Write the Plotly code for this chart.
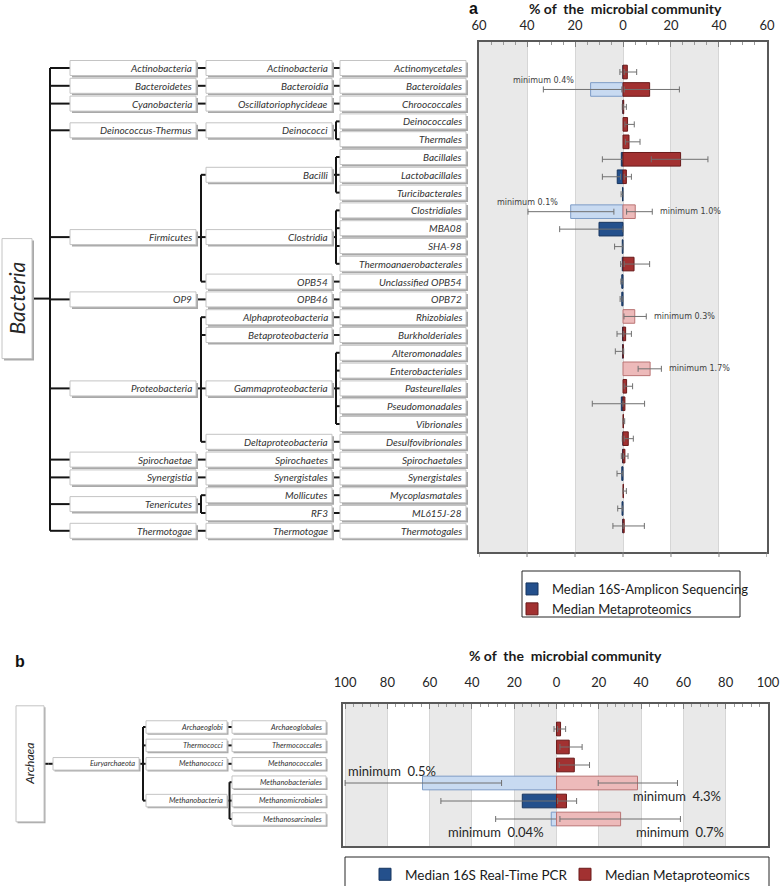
import plotly.graph_objects as go

W, H = 780, 886
FONT = "Lato"

# ---------------- Panel a data (Bacteria) ----------------
a_orders = ["Actinomycetales", "Bacteroidales", "Chroococcales", "Deinococcales", "Thermales",
            "Bacillales", "Lactobacillales", "Turicibacterales", "Clostridiales", "MBA08", "SHA-98",
            "Thermoanaerobacterales", "Unclassified OPB54", "OPB72", "Rhizobiales", "Burkholderiales",
            "Alteromonadales", "Enterobacteriales", "Pasteurellales", "Pseudomonadales", "Vibrionales",
            "Desulfovibrionales", "Spirochaetales", "Synergistales", "Mycoplasmatales", "ML615J-28",
            "Thermotogales"]
a_classes = ["Actinobacteria", "Bacteroidia", "Oscillatoriophycideae", "Deinococci", "Deinococci",
             "Bacilli", "Bacilli", "Bacilli", "Clostridia", "Clostridia", "Clostridia", "Clostridia",
             "OPB54", "OPB46", "Alphaproteobacteria", "Betaproteobacteria", "Gammaproteobacteria",
             "Gammaproteobacteria", "Gammaproteobacteria", "Gammaproteobacteria", "Gammaproteobacteria",
             "Deltaproteobacteria", "Spirochaetes", "Synergistales", "Mollicutes", "RF3", "Thermotogae"]
a_phyla = ["Actinobacteria", "Bacteroidetes", "Cyanobacteria", "Deinococcus-Thermus", "Deinococcus-Thermus",
           "Firmicutes", "Firmicutes", "Firmicutes", "Firmicutes", "Firmicutes", "Firmicutes", "Firmicutes",
           "Firmicutes", "OP9", "Proteobacteria", "Proteobacteria", "Proteobacteria", "Proteobacteria",
           "Proteobacteria", "Proteobacteria", "Proteobacteria", "Proteobacteria", "Spirochaetae",
           "Synergistia", "Tenericutes", "Tenericutes", "Thermotogae"]
a_amp_median = [0.0, 13.5, 0.0, 0.0, 0.0, 0.7, 2.4, 0.2, 21.8, 10.0, 0.3, 0.3, 0.5, 0.5, 0.0, 0.2,
                0.2, 0.0, 0.0, 0.7, 0.0, 0.0, 0.2, 0.5, 0.0, 0.4, 0.1]
a_amp_low = [0.0, 0.5, 0.0, 0.0, 0.0, 0.0, 1.0, 0.0, 3.8, 0.0, 0.0, 0.0, 0.1, 0.1, 0.0, 0.0,
             0.0, 0.0, 0.0, 0.0, 0.0, 0.0, 0.0, 0.1, 0.0, 0.1, 0.0]
a_amp_high = [1.3, 33.2, 0.3, 0.0, 0.0, 8.6, 8.6, 0.8, 39.6, 26.4, 3.5, 1.0, 0.9, 1.2, 0.0, 2.5,
              3.2, 0.0, 0.0, 12.8, 0.0, 0.3, 0.7, 2.5, 0.0, 2.2, 4.2]
a_prot_median = [1.8, 11.1, 0.3, 1.9, 2.5, 24.0, 1.4, 0.0, 5.1, 0.0, 0.0, 4.6, 0.0, 0.0, 4.9, 1.1,
                 0.1, 11.3, 1.5, 0.8, 0.2, 2.2, 0.8, 0.0, 0.2, 0.0, 0.5]
a_prot_low = [0.5, 0.5, 0.1, 0.8, 1.0, 11.8, 0.5, 0.0, 1.5, 0.0, 0.0, 0.5, 0.0, 0.0, 0.4, 0.3,
              0.0, 6.3, 0.5, 0.0, 0.0, 0.5, 0.2, 0.0, 0.0, 0.0, 0.1]
a_prot_high = [5.7, 23.5, 1.4, 4.7, 7.1, 35.4, 3.5, 0.0, 12.2, 0.0, 0.0, 11.1, 0.0, 0.0, 9.7, 3.5,
               0.3, 16.0, 4.0, 9.0, 0.7, 4.3, 2.1, 0.0, 1.4, 0.0, 8.9]
a_amp_notes = [("Bacteroidales", "minimum 0.4%"), ("Clostridiales", "minimum 0.1%")]
a_prot_notes = [("Clostridiales", "minimum 1.0%"), ("Rhizobiales", "minimum 0.3%"),
                ("Enterobacteriales", "minimum 1.7%")]
a_ticks = [-60, -40, -20, 0, 20, 40, 60]
a_legend = ["Median 16S-Amplicon Sequencing", "Median Metaproteomics"]

# ---------------- Panel b data (Archaea) ----------------
b_orders = ["Archaeoglobales", "Thermococcales", "Methanococcales", "Methanobacteriales",
            "Methanomicrobiales", "Methanosarcinales"]
b_classes = ["Archaeoglobi", "Thermococci", "Methanococci", "Methanobacteria", "Methanobacteria",
             "Methanobacteria"]
b_phyla = ["Euryarchaeota"] * 6
b_pcr_median = [0.0, 0.0, 0.0, 63.4, 16.2, 2.5]
b_pcr_low = [0.0, 0.0, 0.0, 26.0, 0.0, 0.0]
b_pcr_high = [1.2, 0.0, 0.0, 100.0, 54.7, 28.8]
b_prot_median = [1.9, 6.0, 8.4, 38.3, 4.7, 30.3]
b_prot_low = [0.5, 1.6, 1.3, 19.7, 0.5, 1.6]
b_prot_high = [4.3, 12.1, 15.6, 57.2, 9.5, 58.6]
b_pcr_notes = [("Methanobacteriales", "minimum  0.5%"), ("Methanosarcinales", "minimum  0.04%")]
b_prot_notes = [("Methanobacteriales", "minimum  4.3%"), ("Methanosarcinales", "minimum  0.7%")]
b_ticks = [-100, -80, -60, -40, -20, 0, 20, 40, 60, 80, 100]
b_legend = ["Median 16S Real-Time PCR", "Median Metaproteomics"]

# ---------------- styles ----------------
BLUE_DARK, BLUE_DARK_LINE = "#24508C", "#16345E"
BLUE_LIGHT, BLUE_LIGHT_LINE = "#C8DAF1", "#7E9CC6"
RED_DARK, RED_DARK_LINE = "#A23131", "#6A1B1B"
RED_LIGHT, RED_LIGHT_LINE = "#EDBABA", "#BA7474"
ERR_COLOR = "#707070"
BAND_COLOR = "#E9E9E9"
FRAME = "#595959"


def py(p):
    return 1 - p / H


def row_axis(top_px, bot_px, row0_px, step_px):
    return [py(bot_px), py(top_px)], [(bot_px - row0_px) / step_px, (top_px - row0_px) / step_px]


fig = go.Figure()


def add_bars(orders, med_l, lo_l, hi_l, med_r, lo_r, hi_r, notes_l, notes_r, xa, ya, bar_w, names, leg):
    light_l = {o for o, _ in notes_l}
    light_r = {o for o, _ in notes_r}
    # left (16S) series plotted as negative values
    xs, ep, em, fc, lc = [], [], [], [], []
    for o, m, lo, hi in zip(orders, med_l, lo_l, hi_l):
        if m == 0 and hi == 0:
            xs.append(None); ep.append(0); em.append(0)
        else:
            xs.append(-m); ep.append(m - lo); em.append(hi - m)
        lt = o in light_l
        fc.append(BLUE_LIGHT if lt else BLUE_DARK)
        lc.append(BLUE_LIGHT_LINE if lt else BLUE_DARK_LINE)
    fig.add_trace(go.Bar(x=xs, y=orders, orientation="h", width=bar_w,
                         marker=dict(color=fc, line=dict(color=lc, width=1)),
                         error_x=dict(type="data", symmetric=False, array=ep, arrayminus=em,
                                      color=ERR_COLOR, thickness=1, width=3),
                         xaxis=xa, yaxis=ya, showlegend=False, hoverinfo="skip"))
    xs, ep, em, fc, lc = [], [], [], [], []
    for o, m, lo, hi in zip(orders, med_r, lo_r, hi_r):
        if m == 0 and hi == 0:
            xs.append(None); ep.append(0); em.append(0)
        else:
            xs.append(m); ep.append(hi - m); em.append(m - lo)
        lt = o in light_r
        fc.append(RED_LIGHT if lt else RED_DARK)
        lc.append(RED_LIGHT_LINE if lt else RED_DARK_LINE)
    fig.add_trace(go.Bar(x=xs, y=orders, orientation="h", width=bar_w,
                         marker=dict(color=fc, line=dict(color=lc, width=1)),
                         error_x=dict(type="data", symmetric=False, array=ep, arrayminus=em,
                                      color=ERR_COLOR, thickness=1, width=3),
                         xaxis=xa, yaxis=ya, showlegend=False, hoverinfo="skip"))
    # legend-only entries
    fig.add_trace(go.Bar(x=[None], y=[None], orientation="h", name=names[0], legend=leg,
                         marker=dict(color=BLUE_DARK, line=dict(color=BLUE_DARK_LINE, width=1)),
                         xaxis=xa, yaxis=ya))
    fig.add_trace(go.Bar(x=[None], y=[None], orientation="h", name=names[1], legend=leg,
                         marker=dict(color=RED_DARK, line=dict(color=RED_DARK_LINE, width=1)),
                         xaxis=xa, yaxis=ya))


def add_bands(ticks, xa, ya, xmax):
    for t in ticks:
        if (t // 20) % 2 == 1 and t < xmax:
            fig.add_shape(type="rect", xref=xa, yref=ya + " domain", x0=t, x1=min(t + 20, xmax),
                          y0=0, y1=1, fillcolor=BAND_COLOR, line=dict(width=0), layer="below")


def add_notes(panel, orders, notes, med, hi, side, xa, ya, xmin, style, pos_override):
    for o, txt in notes:
        i = orders.index(o)
        end = -hi[i] if side == "l" else hi[i]
        pos = pos_override.get((panel, side, o), {"a": {"l": "above", "r": "right"},
                                                  "b": {"l": "below", "r": "below"}}[panel][side])
        kw = dict(xanchor="center", yshift=0, x=end)
        if pos == "above":
            kw.update(yshift=style["up"])
        elif pos == "below":
            kw.update(yshift=-style["down"])
        elif pos == "right":
            kw.update(x=end + 2.5, xanchor="left")
        elif pos == "above_left":
            kw.update(x=xmin + 1.5, xanchor="left", yshift=style["up"])
        fig.add_annotation(xref=xa, yref=ya, y=o, text=txt, showarrow=False, yanchor="middle",
                           font=style["font"], **kw)


def add_tree(kingdom, phyla, classes, orders, xa, ya, g, step_px):
    def rows(px):
        return px / step_px

    def line(x0, y0, x1, y1):
        fig.add_shape(type="line", xref=xa, yref=ya, x0=x0, y0=y0, x1=x1, y1=y1,
                      line=dict(color="#151515", width=2))

    def box(x0, x1, yc, half_px, text, size, angle=0):
        hh = rows(half_px)
        sh = g["shadow"]
        fig.add_shape(type="rect", xref=xa, yref=ya, x0=x0 + sh, x1=x1 + sh, y0=yc - hh + rows(sh),
                      y1=yc + hh + rows(sh), fillcolor="#A9A9A9", line=dict(width=0))
        fig.add_shape(type="rect", xref=xa, yref=ya, x0=x0, x1=x1, y0=yc - hh, y1=yc + hh,
                      fillcolor="white", line=dict(color="#C4C4C4", width=1))
        if angle:
            fig.add_annotation(xref=xa, yref=ya, x=(x0 + x1) / 2, y=yc, text=f"<i>{text}</i>",
                               textangle=angle, showarrow=False, xanchor="center", yanchor="middle",
                               font=dict(family=FONT, size=size, color="#262626"))
        else:
            fig.add_annotation(xref=xa, yref=ya, x=x1 - 2, y=yc, text=f"<i>{text}</i>",
                               showarrow=False, xanchor="right", yanchor="middle",
                               font=dict(family=FONT, size=size, color="#333333"))

    cls_keys, cls_rows = [], {}
    for r, (p, c) in enumerate(zip(phyla, classes)):
        k = (p, c)
        if k not in cls_rows:
            cls_rows[k] = []
            cls_keys.append(k)
        cls_rows[k].append(r)
    cls_y = {k: sum(v) / len(v) for k, v in cls_rows.items()}
    phy_keys, phy_cls = [], {}
    for k in cls_keys:
        if k[0] not in phy_cls:
            phy_cls[k[0]] = []
            phy_keys.append(k[0])
        phy_cls[k[0]].append(k)
    phy_y = {}
    for p, ks in phy_cls.items():
        ys = [cls_y[k] for k in ks]
        m = sum(ys) / len(ys)
        phy_y[p] = min(ys, key=lambda v: abs(v - m)) if len(ys) >= 3 else m
    king_y = sum(phy_y.values()) / len(phy_y)

    kx0, kx1 = g["k"]
    px0, px1 = g["p"]
    cx0, cx1 = g["c"]
    ox0, ox1 = g["o"]
    # kingdom
    line(kx1, king_y, g["trunk"], king_y)
    ys_p = [phy_y[p] for p in phy_keys]
    line(g["trunk"], min(ys_p), g["trunk"], max(ys_p))
    box(kx0, kx1, king_y, g["k_half"], kingdom, g["kfont"], angle=-90)
    for p in phy_keys:
        yp = phy_y[p]
        line(g["trunk"], yp, px0, yp)
        ks = phy_cls[p]
        if len(ks) == 1:
            line(px1, yp, cx0, cls_y[ks[0]])
        else:
            line(px1, yp, g["pb"], yp)
            line(g["pb"], min(cls_y[k] for k in ks), g["pb"], max(cls_y[k] for k in ks))
            for k in ks:
                line(g["pb"], cls_y[k], cx0, cls_y[k])
        box(px0, px1, yp, g["box_h"] / 2, p, g["font"])
        for k in ks:
            yc = cls_y[k]
            rs = cls_rows[k]
            if len(rs) == 1:
                line(cx1, yc, ox0, rs[0])
            else:
                line(cx1, yc, g["cb"], yc)
                line(g["cb"], min(rs), g["cb"], max(rs))
                for r in rs:
                    line(g["cb"], r, ox0, r)
            box(cx0, cx1, yc, g["box_h"] / 2, k[1], g["font"])
            for r in rs:
                box(ox0, ox1, r, g["box_h"] / 2, orders[r], g["font"])


A_MIN, A_MAX = -60.02, 60.02
B_MIN, B_MAX = -101, 100.02
# ---------------- panel a bars ----------------
add_bars(a_orders, a_amp_median, a_amp_low, a_amp_high, a_prot_median, a_prot_low, a_prot_high,
         a_amp_notes, a_prot_notes, "x", "y", 0.78, a_legend, "legend")
add_bands(a_ticks, "x", "y", A_MAX)
# bottom (outside) tick marks of panel a
for t in a_ticks:
    fig.add_shape(type="line", xref="x", x0=t, x1=t, yref="paper", ysizemode="pixel",
                  yanchor=py(552), y0=0, y1=-5, line=dict(color="#7F7F7F", width=1))
# ---------------- panel b bars ----------------
add_bars(b_orders, b_pcr_median, b_pcr_low, b_pcr_high, b_prot_median, b_prot_low, b_prot_high,
         b_pcr_notes, b_prot_notes, "x3", "y3", 0.76, b_legend, "legend2")
add_bands(b_ticks, "x3", "y3", B_MAX)

pos_override = {("b", "l", "Methanobacteriales"): "above_left"}
style_a = dict(font=dict(family="DejaVu Sans", size=8, color="#404040"), up=9, down=12)
style_b = dict(font=dict(family=FONT, size=13, color="#262626"), up=12, down=13)
add_notes("a", a_orders, a_amp_notes, a_amp_median, a_amp_high, "l", "x", "y", -60, style_a, pos_override)
add_notes("a", a_orders, a_prot_notes, a_prot_median, a_prot_high, "r", "x", "y", -60, style_a, pos_override)
add_notes("b", b_orders, b_pcr_notes, b_pcr_median, b_pcr_high, "l", "x3", "y3", -101, style_b, pos_override)
add_notes("b", b_orders, b_prot_notes, b_prot_median, b_prot_high, "r", "x3", "y3", -101, style_b, pos_override)

# dummy traces so tree axes exist
for xa, ya in [("x5", "y5"), ("x6", "y6")]:
    fig.add_trace(go.Scatter(x=[None], y=[None], xaxis=xa, yaxis=ya, showlegend=False, hoverinfo="skip"))

# ---------------- trees ----------------
TREE_A = dict(k=(2, 32), k_half=60, trunk=50, p=(70, 196), pb=201, c=(206, 332), cb=336,
              o=(340, 466), box_h=15, font=10, kfont=21, shadow=2)
TREE_B = dict(k=(16, 44), k_half=58, trunk=48.5, p=(53, 139), pb=143, c=(146, 227), cb=229.5,
              o=(232, 326), box_h=12.5, font=7.5, kfont=12, shadow=1.5)
A_STEP, B_STEP = 17.8, 18.4
add_tree("Bacteria", a_phyla, a_classes, a_orders, "x5", "y5", TREE_A, A_STEP)
add_tree("Archaea", b_phyla, b_classes, b_orders, "x6", "y6", TREE_B, B_STEP)

# ---------------- axes ----------------
tickfont = dict(family=FONT, size=13, color="#262626")
a_ydom, a_yrng = row_axis(42, 552, 72, 17.46)
b_ydom, b_yrng = row_axis(704, 846, 729, 18.0)
ta_dom, ta_rng = row_axis(40, 560, 68, A_STEP)
tb_dom, tb_rng = row_axis(698, 840, 727, B_STEP)

common_top = dict(side="top", tickmode="array", ticks="inside", ticklen=5, tickwidth=1,
                  tickcolor="#7F7F7F", showline=True, mirror=True, linecolor=FRAME, linewidth=1.5,
                  showgrid=True, gridcolor="#D6D6D6", gridwidth=1, zeroline=False, tickfont=tickfont,
                  fixedrange=True, ticklabeloverflow="allow")

fig.update_layout(
    width=W, height=H, autosize=False, margin=dict(l=0, r=0, t=0, b=0, autoexpand=False),
    paper_bgcolor="white", plot_bgcolor="white", barmode="overlay",
    xaxis=dict(domain=[479 / W, 767 / W], range=[A_MIN, A_MAX], anchor="y", tickvals=a_ticks,
               ticktext=[str(abs(t)) for t in a_ticks], ticklabelstandoff=5,
               minor=dict(dtick=5, tick0=0, ticks="inside", ticklen=3, tickcolor="#9A9A9A",
                          showgrid=False), **common_top),
    yaxis=dict(domain=a_ydom, range=a_yrng, type="category", categoryorder="array",
               categoryarray=a_orders, anchor="x", showticklabels=False, ticks="", showline=True,
               mirror=True, linecolor=FRAME, linewidth=1.5, showgrid=False, zeroline=False,
               fixedrange=True),
    xaxis3=dict(domain=[343 / W, 768 / W], range=[B_MIN, B_MAX], anchor="y3", tickvals=b_ticks,
                ticktext=[str(abs(t)) for t in b_ticks], ticklabelstandoff=10,
                minor=dict(dtick=4, tick0=0, ticks="inside", ticklen=3, tickcolor="#9A9A9A",
                           showgrid=False), **common_top),
    yaxis3=dict(domain=b_ydom, range=b_yrng, type="category", categoryorder="array",
                categoryarray=b_orders, anchor="x3", showticklabels=False, ticks="", showline=True,
                mirror=True, linecolor=FRAME, linewidth=1.5, showgrid=False, zeroline=False,
                fixedrange=True),
    xaxis5=dict(domain=[0, 476 / W], range=[0, 476], anchor="y5", visible=False, fixedrange=True),
    yaxis5=dict(domain=ta_dom, range=ta_rng, anchor="x5", visible=False, fixedrange=True),
    xaxis6=dict(domain=[0, 336 / W], range=[0, 336], anchor="y6", visible=False, fixedrange=True),
    yaxis6=dict(domain=tb_dom, range=tb_rng, anchor="x6", visible=False, fixedrange=True),
    legend=dict(x=512 / W, y=py(574), xanchor="left", yanchor="top", borderwidth=0,
                bgcolor="rgba(0,0,0,0)", font=dict(family=FONT, size=13, color="#1A1A1A"),
                tracegroupgap=2),
    legend2=dict(orientation="h", x=365 / W, y=py(859), xanchor="left", yanchor="top",
                 entrywidth=155, entrywidthmode="pixels", bgcolor="rgba(0,0,0,0)", borderwidth=0,
                 font=dict(family=FONT, size=13.5, color="#1A1A1A")),
)

# legend frames
fig.add_shape(type="rect", xref="paper", yref="paper", x0=522 / W, x1=740 / W, y0=py(617), y1=py(571),
              line=dict(color="#262626", width=1), fillcolor="rgba(0,0,0,0)")
fig.add_shape(type="rect", xref="paper", yref="paper", x0=345 / W, x1=769 / W, y0=py(890), y1=py(857),
              line=dict(color="#262626", width=1), fillcolor="rgba(0,0,0,0)")

# titles and panel letters
for txt, x, y in [("% of  the  microbial community", 625, 9), ("% of  the  microbial community", 565, 655)]:
    fig.add_annotation(xref="paper", yref="paper", x=x / W, y=py(y), text=f"<b>{txt}</b>",
                       showarrow=False, xanchor="center", yanchor="middle",
                       font=dict(family=FONT, size=14, color="#1A1A1A"))
for txt, x, y in [("a", 474, 9), ("b", 20, 661)]:
    fig.add_annotation(xref="paper", yref="paper", x=x / W, y=py(y), text=f"<b>{txt}</b>",
                       showarrow=False, xanchor="center", yanchor="middle",
                       font=dict(family="Liberation Sans", size=16, color="#111111"))

fig.write_html("out.html", config={"displayModeBar": False},
               post_script="document.body.style.margin='0';document.body.style.overflow='hidden';")
